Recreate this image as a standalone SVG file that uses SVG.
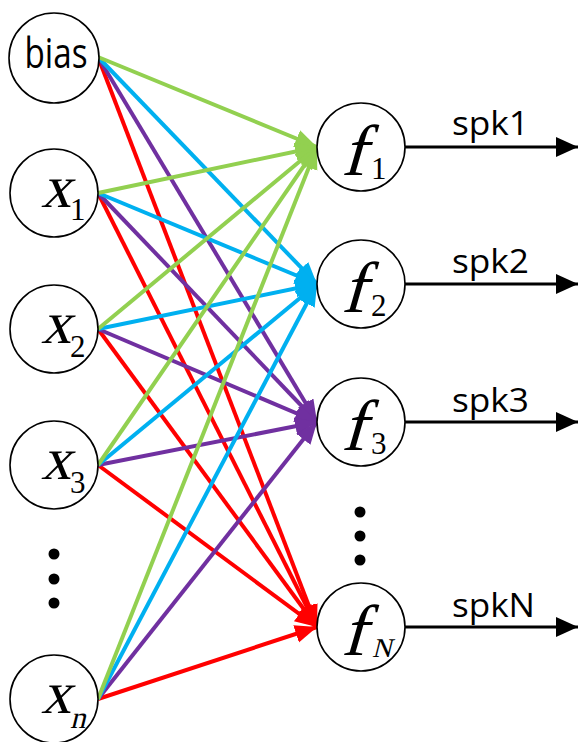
<svg xmlns="http://www.w3.org/2000/svg" width="580" height="742" viewBox="0 0 580 742">
<style>
.node{fill:#fff;stroke:#000;stroke-width:1.6}
.e{fill:none;stroke-width:4}
.g{stroke:#92D050}.b{stroke:#00B0F0}.p{stroke:#7030A0}.r{stroke:#FF0000}
.out{stroke:#000;stroke-width:3;fill:none}
.sans{font-family:"Open Sans","Liberation Sans",sans-serif;fill:#000}
.m{font-family:"Liberation Serif","Times New Roman",serif;fill:#000}
.sub{font-family:"Liberation Serif","Times New Roman",serif;fill:#000}
.dot{fill:#000}
</style>
<defs>
<marker id="ag" markerUnits="userSpaceOnUse" markerWidth="24" markerHeight="20" refX="22" refY="9" orient="auto"><path d="M0,0 L22,9 L0,18 z" fill="#92D050"/></marker>
<marker id="ab" markerUnits="userSpaceOnUse" markerWidth="24" markerHeight="20" refX="22" refY="9" orient="auto"><path d="M0,0 L22,9 L0,18 z" fill="#00B0F0"/></marker>
<marker id="ap" markerUnits="userSpaceOnUse" markerWidth="24" markerHeight="20" refX="22" refY="9" orient="auto"><path d="M0,0 L22,9 L0,18 z" fill="#7030A0"/></marker>
<marker id="ar" markerUnits="userSpaceOnUse" markerWidth="24" markerHeight="20" refX="22" refY="9" orient="auto"><path d="M0,0 L22,9 L0,18 z" fill="#FF0000"/></marker>
<marker id="ak" markerUnits="userSpaceOnUse" markerWidth="24" markerHeight="22" refX="22" refY="10" orient="auto"><path d="M0,0 L22,10 L0,20 z" fill="#000"/></marker>
</defs>
<g id="connectors">
<g class="e r" marker-end="url(#ar)">
<line x1="98" y1="57" x2="317" y2="627"/>
<line x1="98" y1="193" x2="317" y2="627"/>
<line x1="98" y1="329" x2="317" y2="627"/>
<line x1="98" y1="465" x2="317" y2="627"/>
<line x1="98" y1="699" x2="317" y2="627"/>
</g>
<g class="e p" marker-end="url(#ap)">
<line x1="98" y1="57" x2="317" y2="422"/>
<line x1="98" y1="193" x2="317" y2="422"/>
<line x1="98" y1="329" x2="317" y2="422"/>
<line x1="98" y1="465" x2="317" y2="422"/>
<line x1="98" y1="699" x2="317" y2="422"/>
</g>
<g class="e b" marker-end="url(#ab)">
<line x1="98" y1="57" x2="317" y2="284"/>
<line x1="98" y1="193" x2="317" y2="284"/>
<line x1="98" y1="329" x2="317" y2="284"/>
<line x1="98" y1="465" x2="317" y2="284"/>
<line x1="98" y1="699" x2="317" y2="284"/>
</g>
<g class="e g" marker-end="url(#ag)">
<line x1="98" y1="57" x2="317" y2="147"/>
<line x1="98" y1="193" x2="317" y2="147"/>
<line x1="98" y1="329" x2="317" y2="147"/>
<line x1="98" y1="465" x2="317" y2="147"/>
<line x1="98" y1="699" x2="317" y2="147"/>
</g>
<g class="out" marker-end="url(#ak)">
<line x1="405" y1="147" x2="578" y2="147"/>
<line x1="405" y1="284" x2="578" y2="284"/>
<line x1="405" y1="422" x2="578" y2="422"/>
<line x1="405" y1="627" x2="578" y2="627"/>
</g>
</g>
<g id="bias"><circle class="node" cx="54" cy="58" r="45"/><text class="sans" x="56" y="68" font-size="42" text-anchor="middle" textLength="63" lengthAdjust="spacingAndGlyphs">bias</text></g>
<g id="x1"><circle class="node" cx="54" cy="193" r="44"/><text class="m" transform="translate(41,207) skewX(-14)" font-size="60">x</text><text class="sub" x="70" y="220" font-size="31">1</text></g>
<g id="x2"><circle class="node" cx="54" cy="329" r="44"/><text class="m" transform="translate(41,343) skewX(-14)" font-size="60">x</text><text class="sub" x="70" y="357" font-size="31">2</text></g>
<g id="x3"><circle class="node" cx="54" cy="465" r="44"/><text class="m" transform="translate(41,479) skewX(-14)" font-size="60">x</text><text class="sub" x="70" y="493" font-size="31">3</text></g>
<g id="xn"><circle class="node" cx="54" cy="699" r="44"/><text class="m" transform="translate(41,713) skewX(-14)" font-size="60">x</text><text class="m" transform="translate(70,728) skewX(-14)" font-size="31">n</text></g>
<g id="left-dots"><circle class="dot" cx="54" cy="554" r="5.5"/><circle class="dot" cx="54" cy="579" r="5.5"/><circle class="dot" cx="54" cy="603" r="5.5"/></g>
<g id="f1"><circle class="node" cx="361" cy="147" r="44"/><text class="m" transform="translate(341,175) skewX(-16)" font-size="72">f</text><text class="sub" x="371" y="179" font-size="31">1</text></g>
<g id="f2"><circle class="node" cx="361" cy="284" r="44"/><text class="m" transform="translate(341,312) skewX(-16)" font-size="72">f</text><text class="sub" x="371" y="316" font-size="31">2</text></g>
<g id="f3"><circle class="node" cx="361" cy="422" r="44"/><text class="m" transform="translate(341,450) skewX(-16)" font-size="72">f</text><text class="sub" x="371" y="454" font-size="31">3</text></g>
<g id="fN"><circle class="node" cx="361" cy="627" r="44"/><text class="m" transform="translate(341,655) skewX(-16)" font-size="72">f</text><text class="m" transform="translate(372,657) skewX(-14)" font-size="27">N</text></g>
<g id="right-dots"><circle class="dot" cx="360" cy="512" r="5.5"/><circle class="dot" cx="360" cy="536" r="5.5"/><circle class="dot" cx="360" cy="560" r="5.5"/></g>
<g id="labels">
<text class="sans" x="452" y="135" font-size="33" textLength="77" lengthAdjust="spacingAndGlyphs">spk1</text>
<text class="sans" x="452" y="273" font-size="33" textLength="77" lengthAdjust="spacingAndGlyphs">spk2</text>
<text class="sans" x="452" y="412" font-size="33" textLength="77" lengthAdjust="spacingAndGlyphs">spk3</text>
<text class="sans" x="452" y="617" font-size="33" textLength="83" lengthAdjust="spacingAndGlyphs">spkN</text>
</g>
</svg>
